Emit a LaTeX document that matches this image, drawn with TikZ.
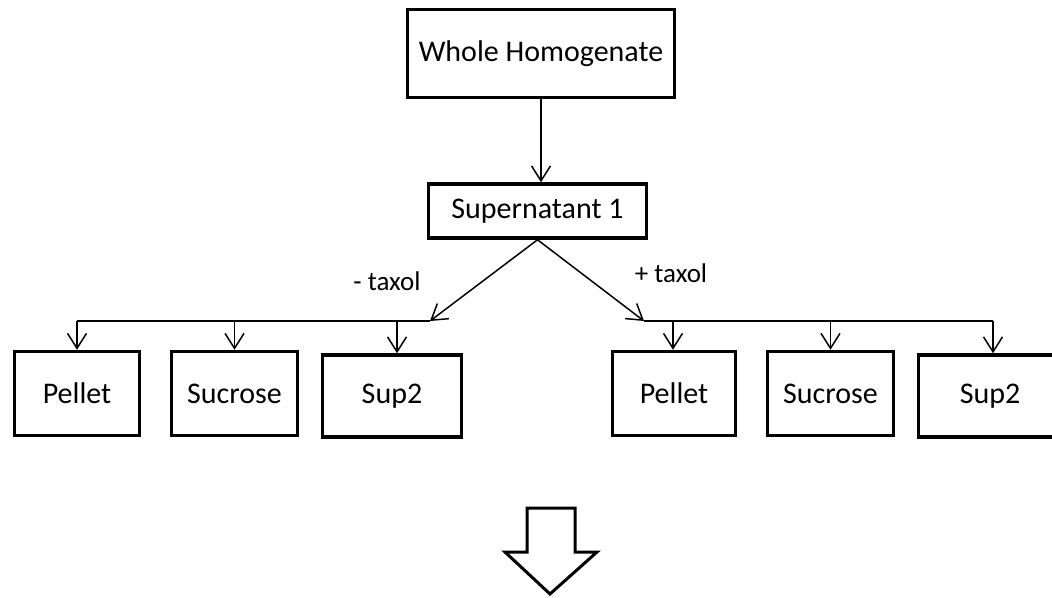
\documentclass[tikz,border=0pt]{standalone}
\usepackage{fontspec}
\setmainfont{Carlito}
\usetikzlibrary{arrows.meta}
\begin{document}
\begin{tikzpicture}[x=1pt,y=-1pt,
 box/.style={draw,line width=3.5pt,fill=white,inner sep=0pt,font=\fontsize{30}{36}\selectfont},
 conn/.style={line width=1.5pt,-{Straight Barb[length=15pt,width=19pt,line width=1.5pt]}},
 bar/.style={line width=1.5pt},
 lbl/.style={font=\fontsize{27}{32}\selectfont},
 blockarrow/.style={line width=3pt,line join=miter,fill=white}]
\fill[white] (0,0) rectangle (1052,597);
\useasboundingbox (0,0) rectangle (1052,597);
% boxes
\node[box,minimum width=267pt,minimum height=88pt] (whole) at (541,53.5) {Whole Homogenate};
\node[box,minimum width=218pt,minimum height=54pt] (sup1) at (537.5,211) {Supernatant 1};
\node[box,minimum width=125pt,minimum height=84pt] (lp) at (77,393.5) {Pellet};
\node[box,minimum width=126pt,minimum height=84pt] (ls) at (234.5,393.5) {Sucrose};
\node[box,minimum width=139pt,minimum height=82pt] (l2) at (392,396) {Sup2};
\node[box,minimum width=123pt,minimum height=84pt] (rp) at (674,393.5) {Pellet};
\node[box,minimum width=126pt,minimum height=84pt] (rs) at (830.5,393.5) {Sucrose};
\node[box,minimum width=143pt,minimum height=82pt] (r2) at (990,396) {Sup2};
% labels
\node[lbl] (neg) at (387,281) {- taxol};
\node[lbl] (pos) at (671,273) {+ taxol};
% junctions
\coordinate (lj) at (430,321);
\coordinate (rj) at (644,321);
% connectors
\draw[conn] (whole.south) -- (whole.south |- sup1.north);
\draw[conn] (sup1.south) -- (lj);
\draw[conn] (sup1.south) -- (rj);
\draw[bar] (lp.north |- lj) -- (lj);
\draw[bar] (rj) -- ([xshift=3pt]r2.north |- rj);
\draw[conn] (lp.north |- lj) -- (lp.north);
\draw[conn] (ls.north |- lj) -- (ls.north);
\draw[conn] ([xshift=5pt]l2.north |- lj) -- ([xshift=5pt]l2.north);
\draw[conn] ([xshift=-1pt]rp.north |- rj) -- ([xshift=-1pt]rp.north);
\draw[conn] (rs.north |- rj) -- (rs.north);
\draw[conn] ([xshift=3pt]r2.north |- rj) -- ([xshift=3pt]r2.north);
% block arrow
\draw[blockarrow] (527,508) -- (575,508) -- (575,552) -- (597,552) -- (550,594) -- (505,552) -- (527,552) -- cycle;
\end{tikzpicture}
\end{document}
